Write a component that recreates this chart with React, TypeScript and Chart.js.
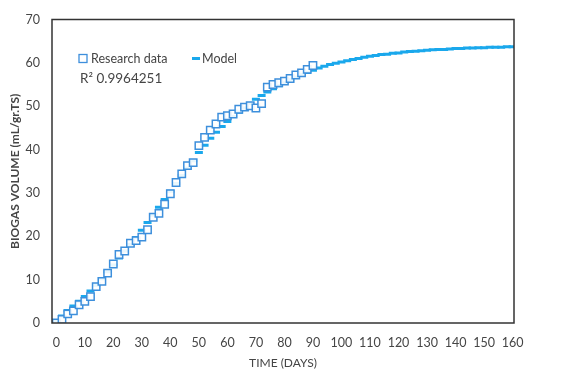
import React, { useEffect, useRef } from "react";
import { Chart, registerables } from "chart.js";

Chart.register(...registerables);

const dataDays = [0, 2, 4, 6, 8, 10, 12, 14, 16, 18, 20, 22, 24, 26, 28, 30, 32, 34, 36, 38, 40, 42, 44, 46, 48, 50, 52, 54, 56, 58, 60, 62, 64, 66, 68, 70, 72, 74, 76, 78, 80, 82, 84, 86, 88, 90];
const researchData = [0.0, 0.8, 2.1, 2.8, 4.2, 5.0, 6.1, 8.4, 9.6, 11.5, 13.6, 15.8, 16.6, 18.4, 19.0, 19.8, 21.5, 24.4, 25.3, 27.4, 29.8, 32.4, 34.4, 36.3, 37.0, 40.9, 42.8, 44.5, 45.9, 47.5, 47.8, 48.2, 49.3, 49.8, 50.1, 49.6, 50.6, 54.4, 55.0, 55.4, 55.8, 56.4, 57.2, 57.7, 58.5, 59.4];

const modelDays = [0, 2, 4, 6, 8, 10, 12, 14, 16, 18, 20, 22, 24, 26, 28, 30, 32, 34, 36, 38, 40, 42, 44, 46, 48, 50, 52, 54, 56, 58, 60, 62, 64, 66, 68, 70, 72, 74, 76, 78, 80, 82, 84, 86, 88, 90, 92, 94, 96, 98, 100, 102, 104, 106, 108, 110, 112, 114, 116, 118, 120, 122, 124, 126, 128, 130, 132, 134, 136, 138, 140, 142, 144, 146, 148, 150, 152, 154, 156, 158, 160];
const modelValues = [0.5, 1.6, 2.9, 3.9, 5.0, 6.1, 7.4, 8.7, 10.2, 11.8, 13.4, 15.0, 16.6, 18.1, 19.7, 21.4, 23.2, 24.9, 26.7, 28.5, 30.4, 32.2, 34.0, 35.7, 37.4, 39.3, 41.0, 42.6, 44.0, 45.3, 46.5, 47.6, 48.6, 49.6, 50.6, 51.6, 52.5, 53.3, 54.0, 54.7, 55.4, 56.1, 56.7, 57.3, 57.8, 58.3, 58.8, 59.2, 59.6, 59.9, 60.2, 60.5, 60.8, 61.0, 61.3, 61.5, 61.7, 61.9, 62.0, 62.2, 62.3, 62.5, 62.6, 62.7, 62.8, 62.9, 63.0, 63.1, 63.1, 63.2, 63.3, 63.3, 63.4, 63.4, 63.5, 63.5, 63.6, 63.6, 63.6, 63.7, 63.7];

const xTicks = [0, 10, 20, 30, 40, 50, 60, 70, 80, 90, 100, 110, 120, 130, 140, 150, 160];
const yTicks = [0, 10, 20, 30, 40, 50, 60, 70];

const seriesNames = ["Research data", "Model"];
const r2Label = "R\u00B2 0.9964251";
const xTitle = "TIME (DAYS)";
const yTitle = "BIOGAS VOLUME (mL/gr.TS)";

const squareColor = "#3d8fdc";
const modelColor = "#1aa8ec";
const textColor = "#454545";
const FONT = "Lato, 'Open Sans', sans-serif";

const overlayPlugin = {
  id: "overlay",
  afterDraw(chart: any) {
    const { ctx, chartArea } = chart;
    const { left, top, right, bottom } = chartArea;
    ctx.save();
    ctx.strokeStyle = "#333333";
    ctx.lineWidth = 1.5;
    ctx.strokeRect(left, top, right - left, bottom - top);

    const ly = top + 39;
    const lx = left + 27;
    ctx.strokeStyle = squareColor;
    ctx.lineWidth = 1.3;
    ctx.strokeRect(lx, ly - 4, 8, 8);
    ctx.fillStyle = textColor;
    ctx.font = `12.5px ${FONT}`;
    ctx.textBaseline = "middle";
    ctx.textAlign = "left";
    ctx.fillText(seriesNames[0], lx + 12, ly);
    ctx.strokeStyle = modelColor;
    ctx.lineWidth = 3;
    ctx.beginPath();
    ctx.moveTo(lx + 113, ly);
    ctx.lineTo(lx + 121, ly);
    ctx.stroke();
    ctx.fillText(seriesNames[1], lx + 123, ly);
    ctx.font = `13.5px ${FONT}`;
    ctx.fillText(r2Label, lx + 1, ly + 20);
    ctx.restore();
  },
};

export default function App() {
  const ref = useRef<HTMLCanvasElement | null>(null);
  useEffect(() => {
    document.body.style.margin = "0";
    const canvas = ref.current;
    if (!canvas) return;
    const chart = new Chart(canvas, {
      type: "scatter",
      data: {
        datasets: [
          {
            label: seriesNames[1],
            data: modelDays.map((d, i) => ({ x: d, y: modelValues[i] })),
            showLine: false,
            pointStyle: "line",
            pointRadius: 4,
            pointBorderWidth: 3,
            borderColor: modelColor,
            backgroundColor: modelColor,
            order: 2,
          } as any,
          {
            label: seriesNames[0],
            data: dataDays.map((d, i) => ({ x: d, y: researchData[i] })),
            showLine: false,
            pointStyle: "rect",
            pointRadius: 5.2,
            pointBorderWidth: 1.5,
            borderColor: squareColor,
            backgroundColor: "rgba(255,255,255,0.9)",
            order: 1,
          } as any,
        ],
      },
      options: {
        animation: false,
        responsive: false,
        devicePixelRatio: 1,
        layout: { padding: { top: 18, right: 48, bottom: 0, left: 0 } },
        plugins: {
          legend: { display: false },
          tooltip: { enabled: false },
        },
        scales: {
          x: {
            type: "linear",
            min: -1.5,
            max: 160.5,
            grid: { display: false, drawTicks: false },
            border: { display: false },
            afterBuildTicks: (scale: any) => {
              scale.ticks = xTicks.map((v) => ({ value: v }));
            },
            afterFit: (scale: any) => {
              scale.height = 49;
            },
            ticks: {
              color: textColor,
              font: { family: FONT, size: 12.5 },
              padding: 12,
              maxRotation: 0,
              autoSkip: false,
            },
            title: {
              display: true,
              text: xTitle,
              color: textColor,
              font: { family: FONT, size: 12 },
              padding: { top: 0, bottom: 2 },
            },
          },
          y: {
            type: "linear",
            min: 0,
            max: 70,
            grid: { display: false, drawTicks: false },
            border: { display: false },
            afterBuildTicks: (scale: any) => {
              scale.ticks = yTicks.map((v) => ({ value: v }));
            },
            afterFit: (scale: any) => {
              scale.width = 52;
            },
            ticks: {
              color: textColor,
              font: { family: FONT, size: 12.5 },
              padding: 12,
            },
            title: {
              display: true,
              text: yTitle,
              color: textColor,
              font: { family: FONT, size: 12, weight: "bold" },
              padding: { top: 8, bottom: 0 },
            },
          },
        },
      },
      plugins: [overlayPlugin],
    } as any);
    return () => chart.destroy();
  }, []);
  return (
    <div style={{ width: 562, height: 372, position: "relative", background: "#fff" }}>
      <canvas ref={ref} width={562} height={372} style={{ display: "block" }} />
    </div>
  );
}
